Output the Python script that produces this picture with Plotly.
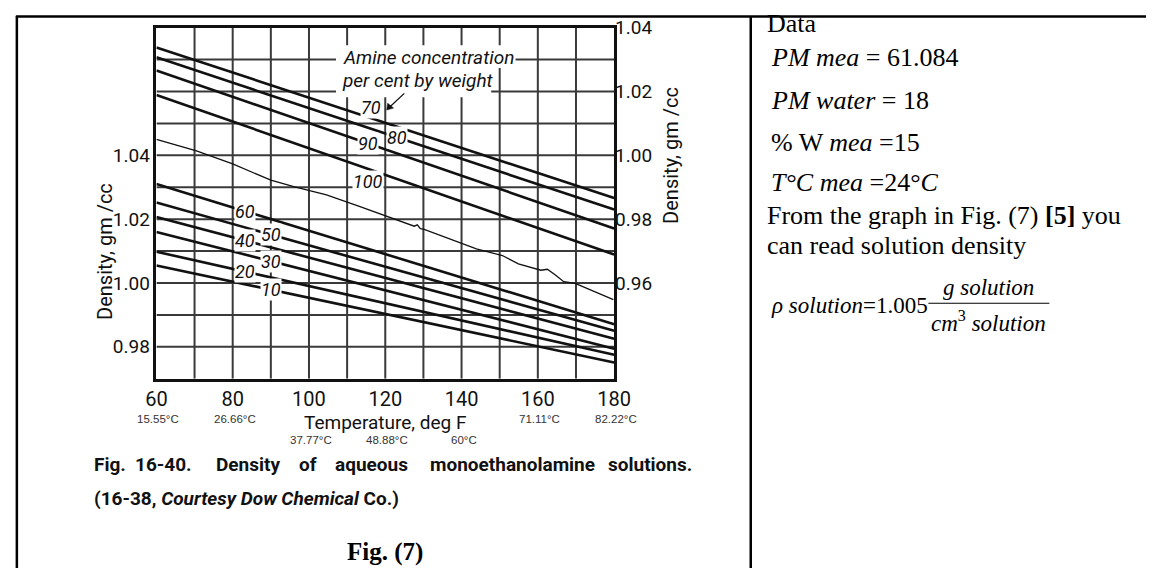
import numpy as np
import plotly.graph_objects as go

W, H = 1163, 568

# ---------------- data ----------------
temps_F = [60, 180]

conc_low = [10, 20, 30, 40, 50, 60]                      # read on left axis
rho_low_60F = [1.0055, 1.0098, 1.0160, 1.0207, 1.0252, 1.0310]
rho_low_180F = [0.9751, 0.9775, 0.9794, 0.9825, 0.9850, 0.9871]

conc_high = [70, 80, 90, 100]                             # read on right axis
rho_high_60F = [1.0338, 1.0307, 1.0266, 1.0189]
rho_high_180F = [0.9866, 0.9830, 0.9771, 0.9689]

# thin hand-traced (wavy) curve, left axis
wavy_T = [60, 70.5, 80, 90, 96, 104.6, 113.2, 120.4, 127.6, 128.4, 129.2, 130.2,
          137.1, 143.9, 150.7, 154.9, 160.8, 162.5, 164.6, 166.8, 169.8, 179.8]
wavy_rho = [1.0450, 1.0414, 1.0373, 1.0322, 1.0302, 1.0276, 1.0240, 1.0209, 1.0178,
            1.0182, 1.0170, 1.0168, 1.0138, 1.0107, 1.0086, 1.0060, 1.0040, 1.0043,
            1.0025, 1.0004, 0.9999, 0.9948]

x_ticks = [60, 80, 100, 120, 140, 160, 180]
x_celsius = ["15.55°C", "26.66°C", "37.77°C", "48.88°C", "60°C", "71.11°C", "82.22°C"]
celsius_row = [0, 0, 1, 1, 1, 0, 0]
y_left_ticks = [0.98, 1.00, 1.02, 1.04]
y_right_ticks = [0.96, 0.98, 1.00, 1.02, 1.04]
grid_T = [70, 80, 90, 100, 110, 120, 130, 140, 150, 160, 170]
grid_rho = [0.98, 0.99, 1.00, 1.01, 1.02, 1.03, 1.04, 1.05, 1.06, 1.07]

# label placement (deg F) on the lines
low_label_T = [90, 83.3, 90, 83.3, 90, 83.3]
high_label_T = [None, 123.2, 115.5, None]

# ---------------- geometry helpers ----------------
X0, X1, YT, YB = 149, 618, 17, 375
XR = [60, 180]
YR = [0.97, 1.08]


def px(x):
    return x / W


def py(y):
    return 1 - y / H


def T_of(x):   # pixel -> deg F (for masks only)
    return XR[0] + (x - X0) / (X1 - X0) * (XR[1] - XR[0])


def R_of(y):   # pixel -> left-axis value (for masks only)
    return YR[1] - (y - YT) / (YB - YT) * (YR[1] - YR[0])


INK = "#111111"
GRID = "#3a3a3a"
SANS = "Roboto, Liberation Sans, sans-serif"
SERIF = "Liberation Serif, Times New Roman, serif"

fig = go.Figure()

for c, a, b in zip(conc_low, rho_low_60F, rho_low_180F):
    fig.add_trace(go.Scatter(x=temps_F, y=[a, b], mode="lines", yaxis="y",
                             line=dict(color=INK, width=2.6), name=f"{c}%",
                             showlegend=False, hoverinfo="skip"))
for c, a, b in zip(conc_high, rho_high_60F, rho_high_180F):
    fig.add_trace(go.Scatter(x=temps_F, y=[a, b], mode="lines", yaxis="y2",
                             line=dict(color=INK, width=2.6), name=f"{c}%",
                             showlegend=False, hoverinfo="skip"))
fig.add_trace(go.Scatter(x=wavy_T, y=wavy_rho, mode="lines", yaxis="y",
                         line=dict(color=INK, width=1.3), showlegend=False,
                         hoverinfo="skip"))

shapes = []
for t in grid_T:
    shapes.append(dict(type="line", xref="x", yref="y", x0=t, x1=t, y0=YR[0], y1=YR[1],
                       line=dict(color=GRID, width=2), layer="below"))
for r in grid_rho:
    shapes.append(dict(type="line", xref="x", yref="y", x0=XR[0], x1=XR[1], y0=r, y1=r,
                       line=dict(color=GRID, width=2), layer="below"))
# white masks behind the "Amine concentration" legend text (same layer as grid)
shapes.append(dict(type="rect", xref="x", yref="y", x0=T_of(333), x1=T_of(517),
                   y0=R_of(58), y1=R_of(35), fillcolor="white", line=dict(width=0), layer="below"))
shapes.append(dict(type="rect", xref="x", yref="y", x0=T_of(333), x1=T_of(492),
                   y0=R_of(88), y1=R_of(57), fillcolor="white", line=dict(width=0), layer="below"))
# arrow from the "70" label (small line + head drawn as shapes)
shapes.append(dict(type="line", xref="paper", yref="paper", x0=px(403), y0=py(84),
                   x1=px(387), y1=py(99), line=dict(color=INK, width=1.3)))
shapes.append(dict(type="path", xref="paper", yref="paper",
                   path=f"M {px(385)},{py(101)} L {px(386)},{py(94)} L {px(392)},{py(99)} Z",
                   fillcolor=INK, line=dict(color=INK, width=0.5)))
# table borders
shapes.append(dict(type="line", xref="paper", yref="paper", x0=px(5), x1=1, y0=py(5.5), y1=py(5.5),
                   line=dict(color="black", width=2.5)))
shapes.append(dict(type="line", xref="paper", yref="paper", x0=px(6), x1=px(6), y0=0, y1=py(5),
                   line=dict(color="black", width=2.5)))
shapes.append(dict(type="line", xref="paper", yref="paper", x0=px(758), x1=px(758), y0=0, y1=py(5),
                   line=dict(color="black", width=2.5)))
# fraction bar in the right-hand text
shapes.append(dict(type="line", xref="paper", yref="paper", x0=px(940), x1=px(1064),
                   y0=py(298), y1=py(298), line=dict(color="black", width=1.2)))

ann = []


def text(x, y, s, size, family=SANS, color=INK, xanchor="center", yanchor="middle", angle=0, bg=None):
    d = dict(x=px(x), y=py(y), xref="paper", yref="paper", text=s, showarrow=False,
             font=dict(size=size, family=family, color=color), xanchor=xanchor,
             yanchor=yanchor, textangle=angle)
    if bg:
        d.update(bgcolor=bg, borderpad=0)
    ann.append(d)


# line labels (low concentrations, left axis)
for c, t, a, b in zip(conc_low, low_label_T, rho_low_60F, rho_low_180F):
    yv = float(np.interp(t, temps_F, [a, b]))
    ann.append(dict(x=t, y=yv, xref="x", yref="y", text=f"<i>{c}</i>", showarrow=False,
                    font=dict(size=18, family=SANS, color=INK), bgcolor="white", borderpad=0))
for c, t, a, b in zip(conc_high, high_label_T, rho_high_60F, rho_high_180F):
    if t is None:
        continue
    yv = float(np.interp(t, temps_F, [a, b]))
    ann.append(dict(x=t, y=yv, xref="x", yref="y2", text=f"<i>{c}</i>", showarrow=False,
                    font=dict(size=18, family=SANS, color=INK), bgcolor="white", borderpad=0))
text(366, 174, "<i>100</i>", 18, bg="white")
text(369, 98, "<i>70</i>", 18, bg="white")
text(338, 47, "<i>Amine concentration</i>", 19, xanchor="left")
text(337, 71, "<i>per cent by weight</i>", 19, xanchor="left")

# axis titles
text(97, 245, "Density, gm /cc", 20, angle=-90)
text(676, 147, "Density, gm /cc", 20, angle=-90)
text(383, 420, "Temperature, deg F", 19)

# celsius equivalents
for t, lab, row in zip(x_ticks, x_celsius, celsius_row):
    xp = X0 + (t - XR[0]) / (XR[1] - XR[0]) * (X1 - X0)
    text(xp + 2, 416 if row == 0 else 437, lab, 11.5, family="Liberation Sans, Arial",
         color="#333333")

# caption (justified first line)
cap_words = ["Fig.", "16-40.", "Density", "of", "aqueous", "monoethanolamine", "solutions."]
cap_x = [83, 125, 208, 293, 330, 427, 610]
for wd, xx in zip(cap_words, cap_x):
    text(xx, 462, f"<b>{wd}</b>", 19, xanchor="left")
text(83, 497, "<b>(16-38, <i>Courtesy Dow Chemical</i> Co.)</b>", 19, xanchor="left")
text(383, 552, "<b>Fig. (7)</b>", 25, family=SERIF, color="black")

# right-hand text
RS = 26
text(773, 13, "Data", RS, family=SERIF, color="black", xanchor="left")
text(777, 47, "<i>PM mea</i> = 61.084", RS, family=SERIF, color="black", xanchor="left")
text(777, 91, "<i>PM water</i> = 18", RS, family=SERIF, color="black", xanchor="left")
text(777, 134, "% W <i>mea</i> =15", RS, family=SERIF, color="black", xanchor="left")
text(777, 175, "<i>T°C mea</i> =24°<i>C</i>", RS, family=SERIF, color="black", xanchor="left")
text(773, 209, "From the graph in Fig. (7) <b>[5]</b> you", RS, family=SERIF, color="black", xanchor="left")
text(773, 239, "can read solution density", RS, family=SERIF, color="black", xanchor="left")
text(777, 300, "<i>ρ solution</i>=1.005", 23, family=SERIF, color="black", xanchor="left")
text(1002, 282, "<i>g solution</i>", 23, family=SERIF, color="black")
text(1002, 317, "<i>cm</i><sup>3</sup> <i>solution</i>", 23, family=SERIF, color="black")

fig.update_layout(
    width=W, height=H, autosize=False,
    margin=dict(l=0, r=0, t=0, b=0),
    paper_bgcolor="white", plot_bgcolor="white",
    showlegend=False,
    shapes=shapes, annotations=ann,
    xaxis=dict(domain=[px(X0), px(X1)], range=XR, tickvals=x_ticks,
               ticktext=[str(v) for v in x_ticks], showgrid=False, zeroline=False,
               showline=True, linecolor=INK, linewidth=2.6, mirror=True, ticks="",
               tickfont=dict(size=20, family=SANS, color=INK)),
    yaxis=dict(domain=[py(YB), py(YT)], range=YR, tickvals=y_left_ticks,
               ticktext=[f"{v:.2f}" for v in y_left_ticks], showgrid=False, zeroline=False,
               showline=True, linecolor=INK, linewidth=2.6, mirror=True, ticks="",
               tickfont=dict(size=19, family=SANS, color=INK)),
    yaxis2=dict(overlaying="y", side="right", anchor="x", range=[0.93, 1.04],
                tickvals=y_right_ticks, ticktext=[f"{v:.2f}" for v in y_right_ticks],
                showgrid=False, zeroline=False, showline=False, ticks="",
                tickfont=dict(size=19, family=SANS, color=INK)),
)

fig.write_html("out.html")
